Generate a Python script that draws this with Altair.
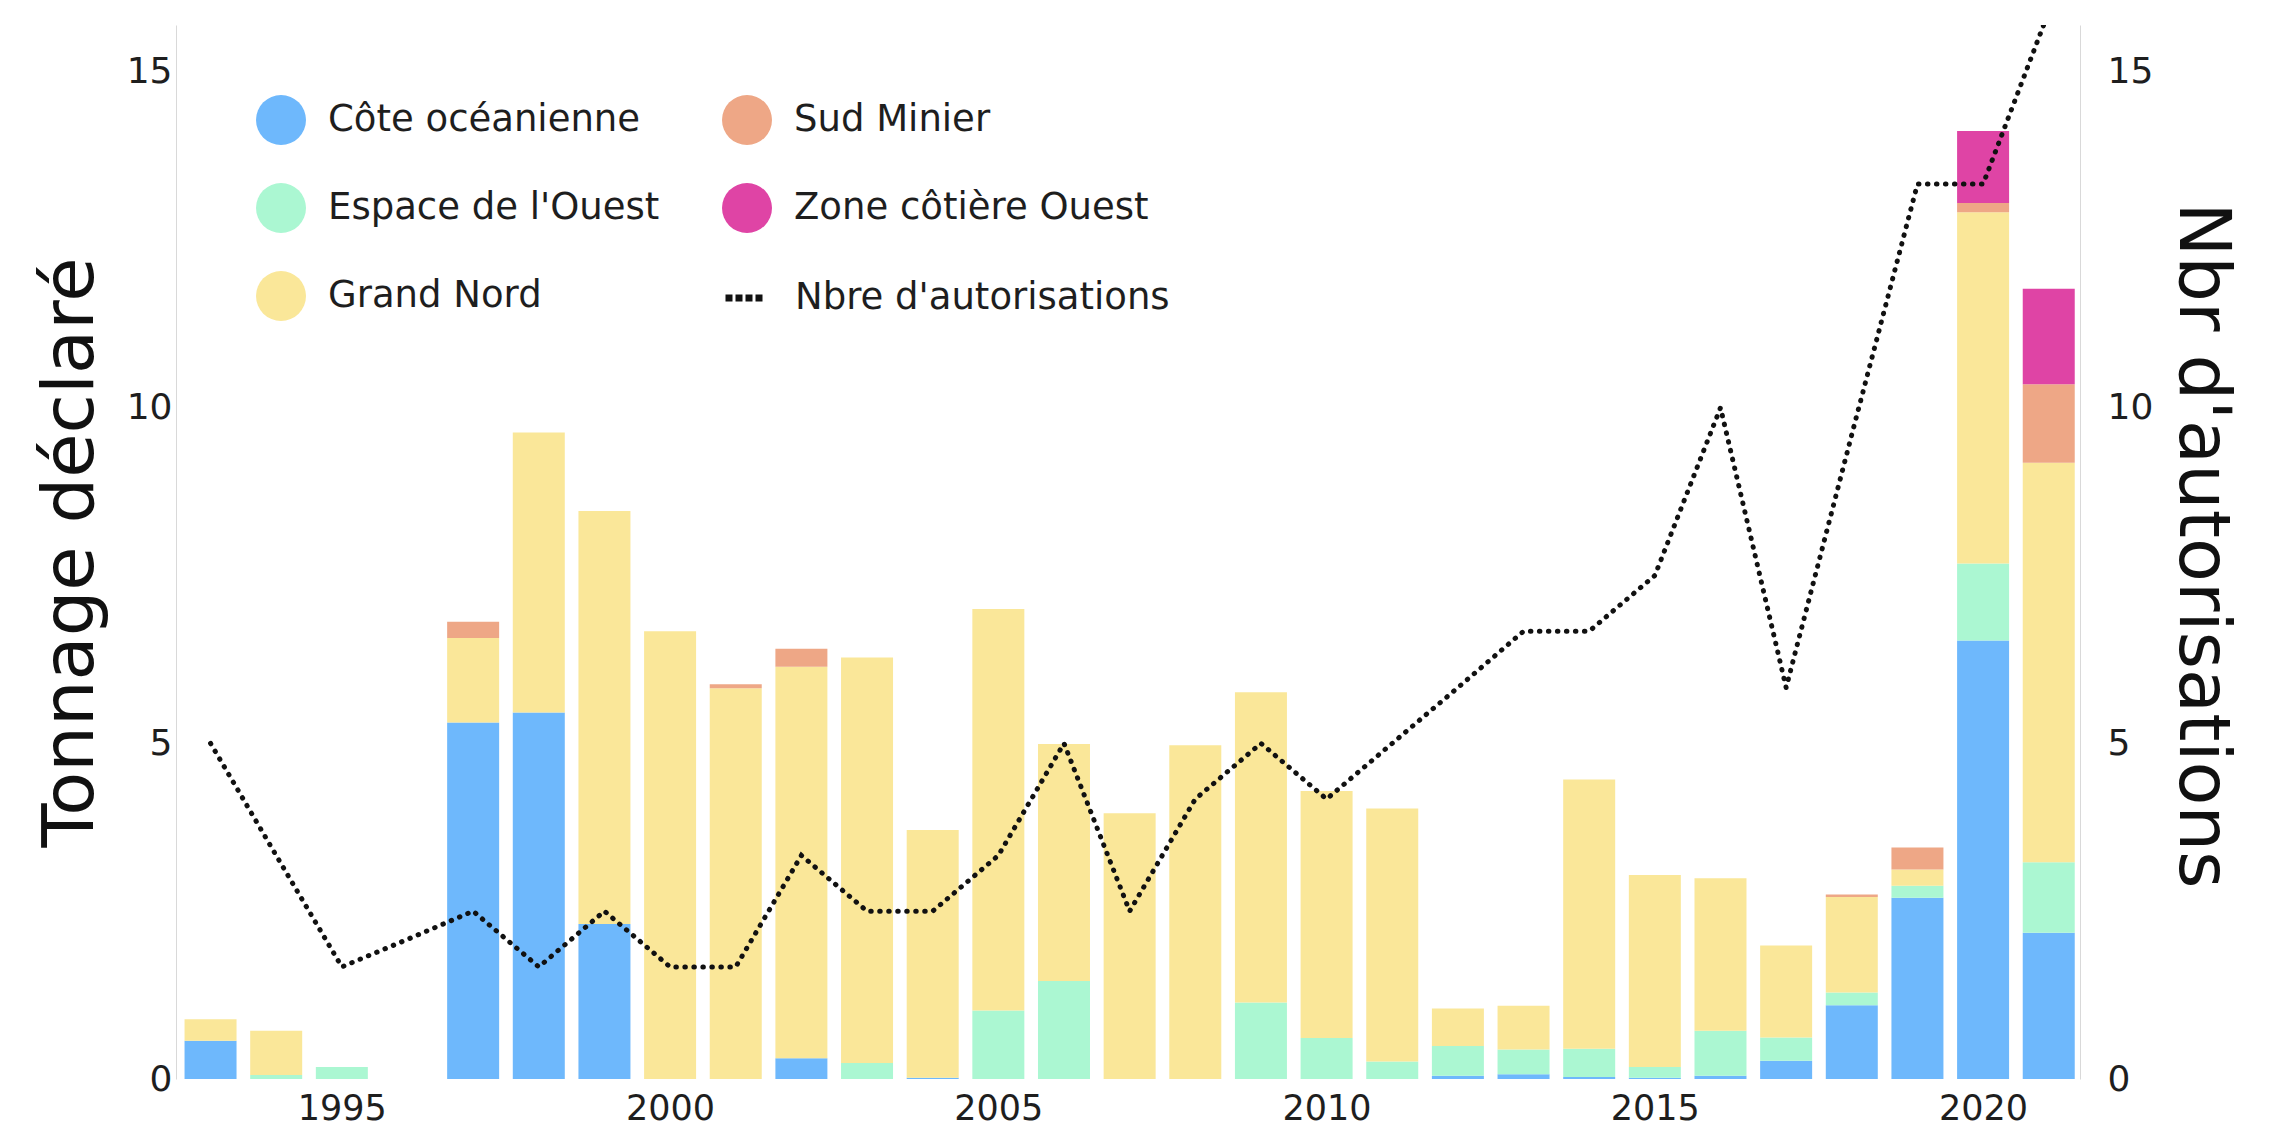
import altair as alt
import pandas as pd

years = list(range(1993, 2022))

regions = ["Côte océanienne", "Espace de l'Ouest", "Grand Nord", "Sud Minier", "Zone côtière Ouest"]
region_colors = ["#6EB8FC", "#ABF7D2", "#FAE799", "#EEA786", "#DF44A5"]

cote = [0.57, 0, 0, 0, 5.31, 5.46, 2.31, 0, 0, 0.31, 0, 0.02, 0, 0, 0, 0, 0, 0, 0,
        0.05, 0.07, 0.03, 0.02, 0.05, 0.27, 1.10, 2.70, 6.53, 2.18]
espace = [0, 0.06, 0.18, 0, 0, 0, 0, 0, 0, 0, 0.24, 0, 1.02, 1.46, 0, 0, 1.14, 0.61, 0.26,
          0.44, 0.37, 0.42, 0.16, 0.67, 0.35, 0.19, 0.18, 1.15, 1.05]
grand_nord = [0.32, 0.66, 0, 0, 1.26, 4.17, 6.15, 6.67, 5.82, 5.83, 6.04, 3.69, 5.98, 3.53, 3.96,
              4.97, 4.62, 3.68, 3.77, 0.56, 0.65, 4.01, 2.86, 2.27, 1.37, 1.42, 0.24, 5.23, 5.95]
sud_minier = [0, 0, 0, 0, 0.24, 0, 0, 0, 0.06, 0.27, 0, 0, 0, 0, 0, 0, 0, 0, 0,
              0, 0, 0, 0, 0, 0, 0.04, 0.33, 0.14, 1.17]
zone_cotiere = [0, 0, 0, 0, 0, 0, 0, 0, 0, 0, 0, 0, 0, 0, 0, 0, 0, 0, 0,
                0, 0, 0, 0, 0, 0, 0, 0, 1.07, 1.42]

autorisations = [5.0, 3.33, 1.67, 2.08, 2.5, 1.67, 2.5, 1.67, 1.67, 3.33, 2.5, 2.5, 3.33, 5.0, 2.5,
                 4.17, 5.0, 4.17, 5.0, 5.83, 6.67, 6.67, 7.5, 10.0, 5.83, 9.6, 13.33, 13.33, 15.9]

x_ticks = [1995, 2000, 2005, 2010, 2015, 2020]
y_ticks = [0, 5, 10, 15]

series = [cote, espace, grand_nord, sud_minier, zone_cotiere]
rows = []
for i, yr in enumerate(years):
    for k, (name, vals) in enumerate(zip(regions, series)):
        rows.append({"annee": yr, "region": name, "ordre": k, "tonnage": vals[i]})
bars_df = pd.DataFrame(rows)
line_df = pd.DataFrame({"annee": years, "autorisations": autorisations,
                        "serie": ["Nbre d'autorisations"] * len(years)})

FONT = "DejaVu Sans"
TXT = "#1e1e1e"

x_scale = alt.Scale(domain=[1992.55, 2021.4], nice=False, zero=False)
x_axis = alt.Axis(values=x_ticks, format="d", grid=False, ticks=False, domain=False,
                  labelFont=FONT, labelFontSize=35, labelColor=TXT, labelPadding=12,
                  labelFlush=False, title=None)

bars = alt.Chart(bars_df).mark_bar(size=52).encode(
    x=alt.X("annee:Q", scale=x_scale, axis=x_axis),
    y=alt.Y("tonnage:Q", stack="zero",
            scale=alt.Scale(domain=[0, 15.7], nice=False),
            axis=alt.Axis(values=y_ticks, grid=False, ticks=False, domain=True,
                          domainColor="#d9d9d9", domainWidth=1,
                          labelFont=FONT, labelFontSize=36, labelColor=TXT, labelPadding=4,
                          title="Tonnage déclaré", titleFont=FONT, titleFontSize=72,
                          titleFontWeight="normal", titleColor="#111111", titleAngle=270,
                          titleX=-84, titleY=527, titleAlign="center",
                          titleBaseline="alphabetic")),
    color=alt.Color("region:N", scale=alt.Scale(domain=regions, range=region_colors),
                    legend=alt.Legend(title=None, orient="none", legendX=80, legendY=70,
                                      columns=2, symbolType="circle", symbolSize=2500,
                                      symbolStrokeWidth=0, labelFont=FONT, labelFontSize=37,
                                      labelColor=TXT, labelLimit=700, labelOffset=22,
                                      rowPadding=38, columnPadding=62, padding=0)),
    order=alt.Order("ordre:Q", sort="ascending"),
)

line = alt.Chart(line_df).mark_line(strokeDash=[0.5, 8.5], strokeCap="round", strokeWidth=5,
                                    clip=True).encode(
    x=alt.X("annee:Q", scale=x_scale, axis=x_axis),
    y=alt.Y("autorisations:Q",
            scale=alt.Scale(domain=[0, 15.7], nice=False),
            axis=alt.Axis(orient="right", values=y_ticks, grid=False, ticks=False, domain=True,
                          domainColor="#d9d9d9", domainWidth=1,
                          labelFont=FONT, labelFontSize=36, labelColor=TXT, labelPadding=27,
                          labelAlign="left",
                          title="Nbr d'autorisations", titleFont=FONT, titleFontSize=72,
                          titleFontWeight="normal", titleColor="#111111", titleAngle=90,
                          titleX=99, titleY=520, titleAlign="center",
                          titleBaseline="alphabetic")),
    stroke=alt.Stroke("serie:N", scale=alt.Scale(domain=["Nbre d'autorisations"], range=["#111111"]),
                      legend=alt.Legend(title=None, orient="none", legendX=546, legendY=250,
                                        symbolType="stroke", symbolSize=1521,
                                        symbolStrokeWidth=7, symbolDash=[7, 3],
                                        labelFont=FONT, labelFontSize=37, labelColor=TXT,
                                        labelLimit=700, labelOffset=27, padding=0)),
)

chart = alt.layer(bars, line).resolve_scale(y="independent").properties(
    width=1904, height=1054,
    autosize=alt.AutoSizeParams(type="none"),
    padding={"left": 168, "top": 17, "right": 200, "bottom": 47},
    background="white",
).configure_view(stroke=None)

chart.save("out.html", embed_options={"renderer": "svg", "actions": False})
